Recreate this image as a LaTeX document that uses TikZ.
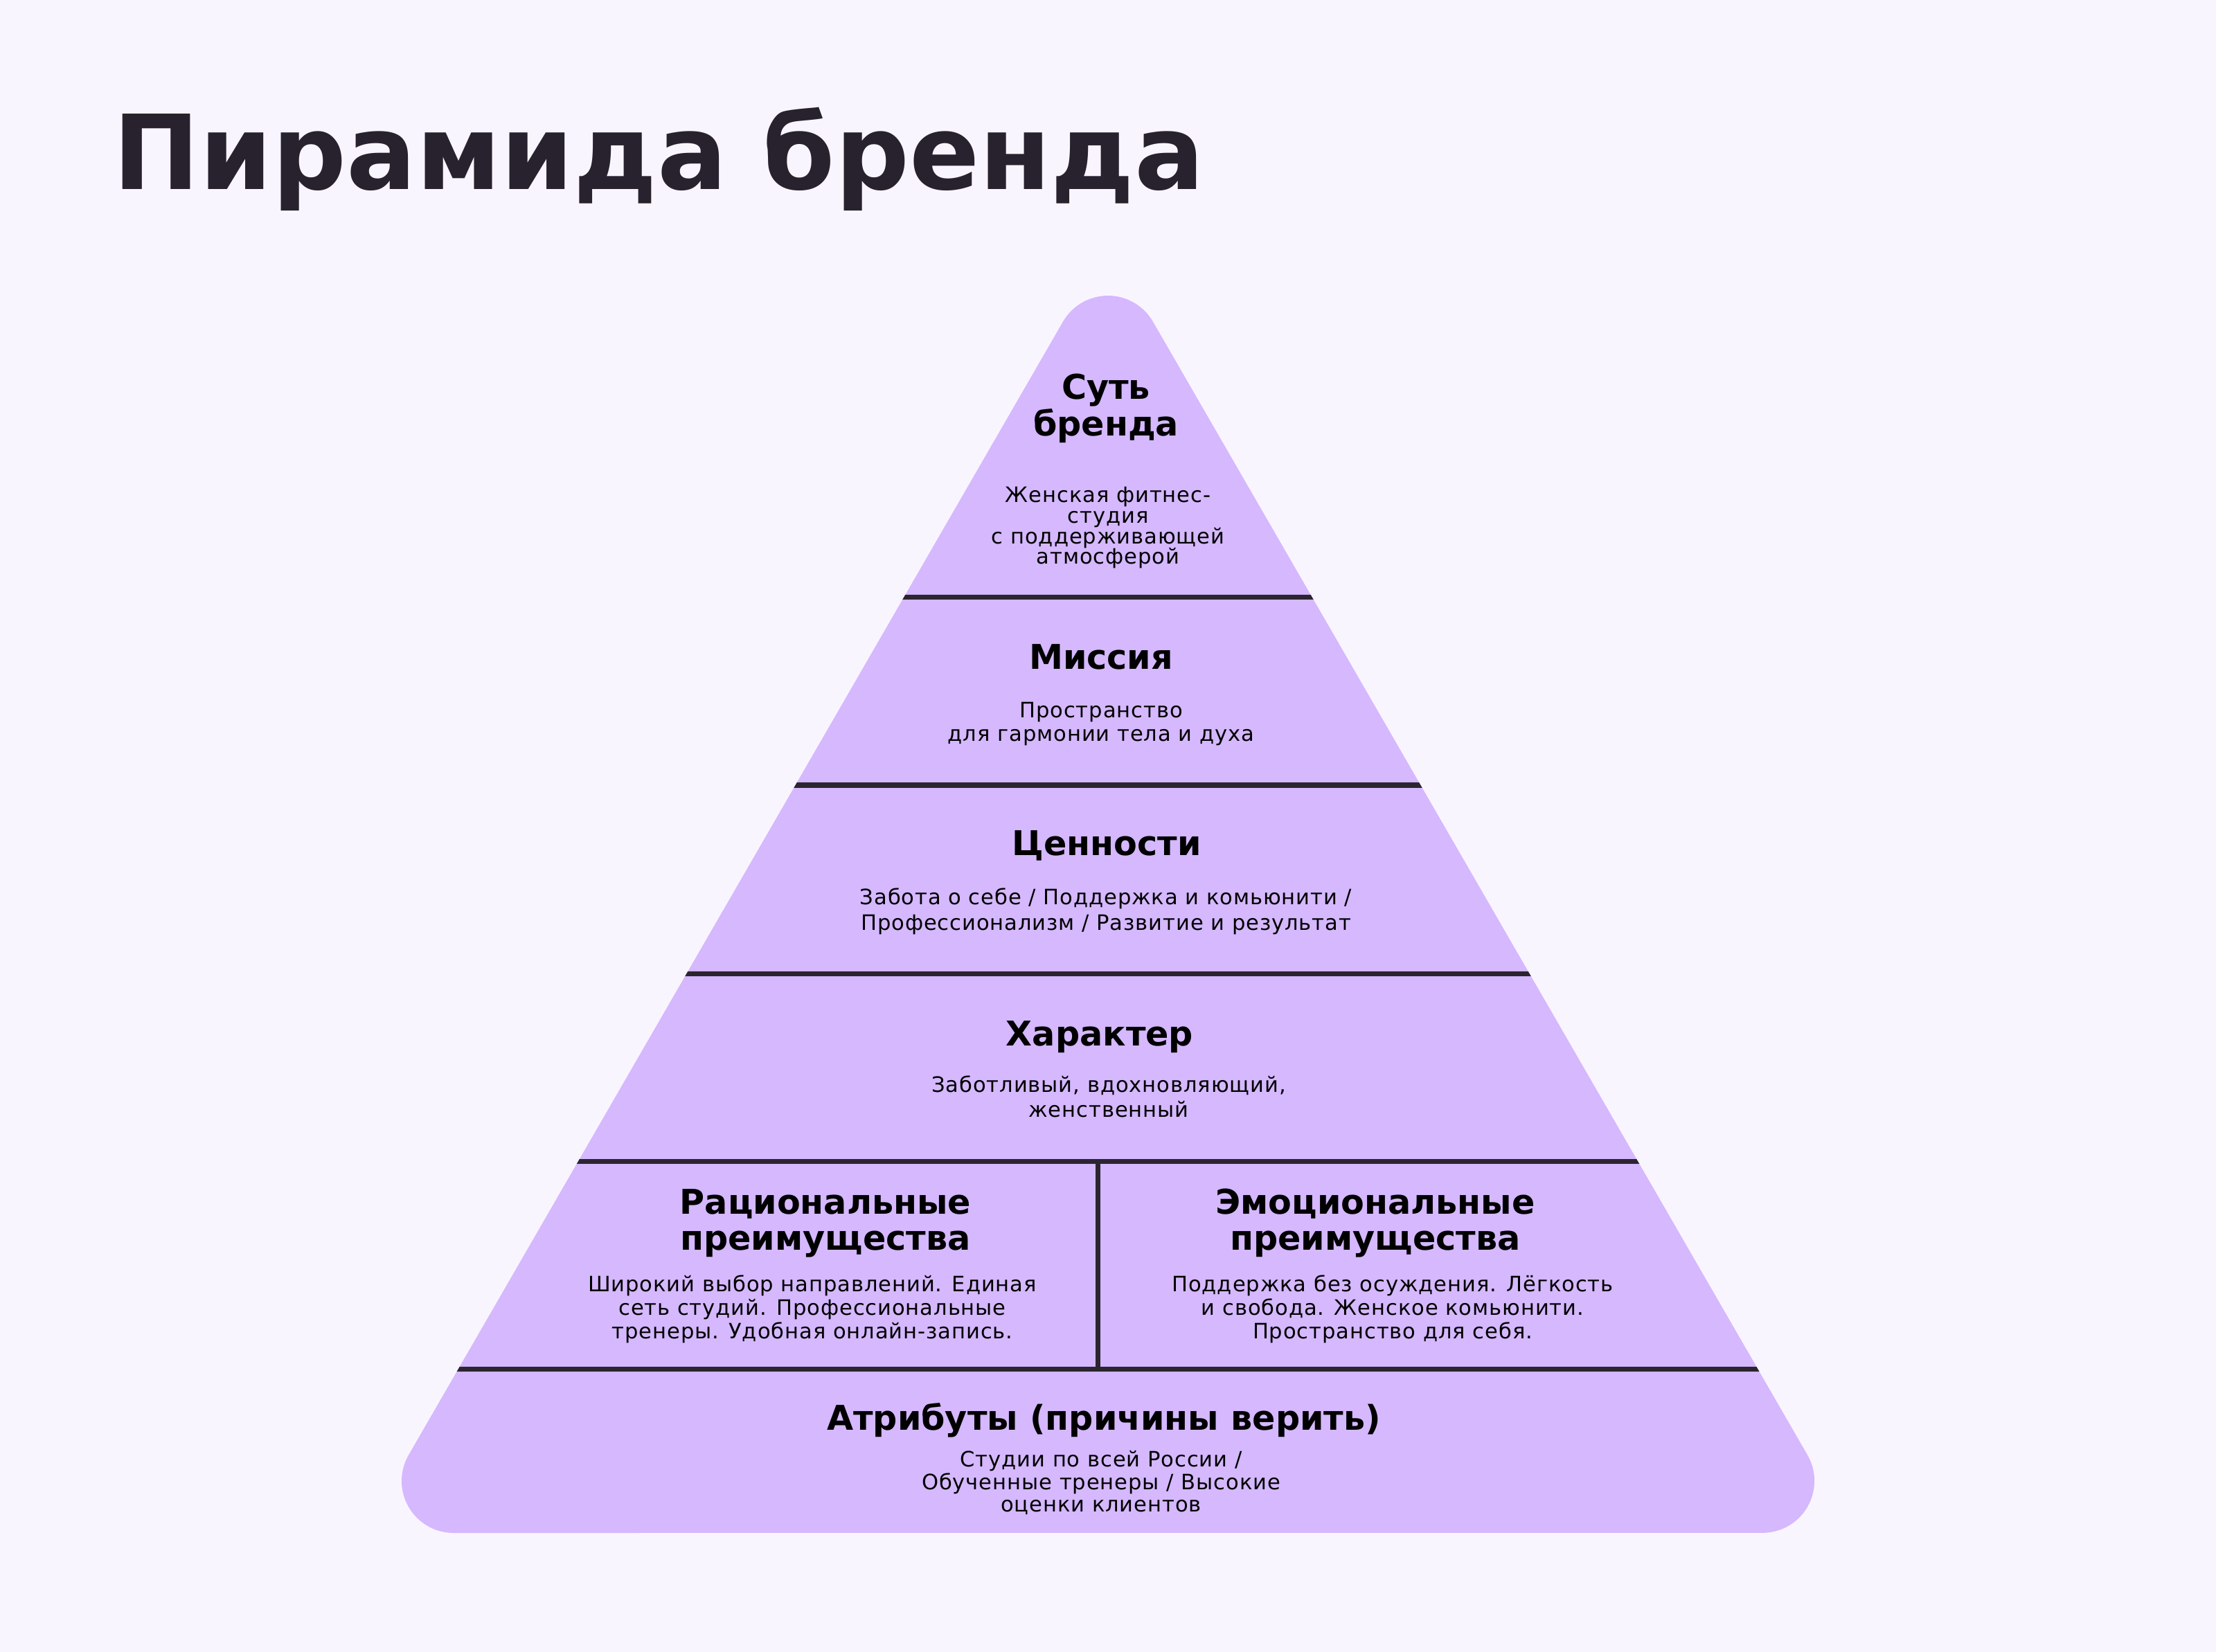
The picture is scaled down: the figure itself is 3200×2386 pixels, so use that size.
\documentclass[tikz,border=0pt]{standalone}
\usepackage{fontspec}
\setmainfont{DejaVu Sans}
\newfontfamily\bodyfont[LetterSpace=3]{DejaVu Sans}
\definecolor{bgc}{HTML}{F9F5FE}
\definecolor{pyr}{HTML}{D5B8FE}
\definecolor{linec}{HTML}{2B2530}
\definecolor{titlec}{HTML}{28222F}
\begin{document}
\begin{tikzpicture}[x=0.01cm,y=-0.01cm,
  head/.style={anchor=base, inner sep=0pt, text=black, font=\bfseries\fontsize{14}{14}\selectfont},
  bodytxt/.style={anchor=base, inner sep=0pt, text=black, font=\bodyfont\fontsize{8.7}{8.7}\selectfont},
  sep/.style={draw=linec, line width=0.07cm}]
\useasboundingbox (0,0) rectangle (3200,2386);
\fill[bgc] (0,0) rectangle (3200,2386);
\node[anchor=base west, inner sep=0pt, text=titlec, font=\bfseries\fontsize{42.5}{42.5}\selectfont] (title) at (163,274) {Пирамида бренда};
\def\pyrpath{(1535,464.6) arc[start angle=210, end angle=330, radius=75]
  -- (2610,2101.4) arc[start angle=-30, end angle=90, radius=75]
  -- (655,2214) arc[start angle=90, end angle=210, radius=75] -- cycle}
\fill[pyr] \pyrpath;
\begin{scope}
\clip \pyrpath;
\draw[sep] (300,863) -- (2900,863);
\draw[sep] (300,1134) -- (2900,1134);
\draw[sep] (300,1406) -- (2900,1406);
\draw[sep] (300,1677) -- (2900,1677);
\draw[sep] (300,1977) -- (2900,1977);
\draw[sep] (1585,1677) -- (1585,1977);
\end{scope}
% 1
\node[head] (h1a) at (1597,577) {Суть};
\node[head] (h1b) at (1597,630) {бренда};
\node[bodytxt] (b1a) at (1600,726) {Женская фитнес-};
\node[bodytxt] (b1b) at (1600,756) {студия};
\node[bodytxt] (b1c) at (1600,786) {с поддерживающей};
\node[bodytxt] (b1d) at (1600,815) {атмосферой};
% 2
\node[head] (h2) at (1590,967) {Миссия};
\node[bodytxt] (b2a) at (1590,1037) {Пространство};
\node[bodytxt] (b2b) at (1590,1071) {для гармонии тела и духа};
% 3
\node[head] (h3) at (1598,1235) {Ценности};
\node[bodytxt] (b3a) at (1597,1307) {Забота о себе / Поддержка и комьюнити /};
\node[bodytxt] (b3b) at (1597,1343) {Профессионализм / Развитие и результат};
% 4
\node[head] (h4) at (1588,1510) {Характер};
\node[bodytxt] (b4a) at (1601,1577) {Заботливый, вдохновляющий,};
\node[bodytxt] (b4b) at (1601,1613) {женственный};
% 5 left
\node[head] (h5a) at (1192,1753) {Рациональные};
\node[head] (h5b) at (1192,1805) {преимущества};
\node[bodytxt] (b5a) at (1173,1865) {Широкий выбор направлений. Единая};
\node[bodytxt] (b5b) at (1173,1899) {сеть студий. Профессиональные};
\node[bodytxt] (b5c) at (1173,1933) {тренеры. Удобная онлайн-запись.};
% 5 right
\node[head] (h5c) at (1986,1753) {Эмоциональные};
\node[head] (h5d) at (1986,1805) {преимущества};
\node[bodytxt] (b5d) at (2011,1865) {Поддержка без осуждения. Лёгкость};
\node[bodytxt] (b5e) at (2011,1899) {и свобода. Женское комьюнити.};
\node[bodytxt] (b5f) at (2011,1933) {Пространство для себя.};
% 6
\node[head] (h6) at (1594,2065) {Атрибуты (причины верить)};
\node[bodytxt] (b6a) at (1590,2118) {Студии по всей России /};
\node[bodytxt] (b6b) at (1590,2151) {Обученные тренеры / Высокие};
\node[bodytxt] (b6c) at (1590,2183) {оценки клиентов};
\end{tikzpicture}
\end{document}
